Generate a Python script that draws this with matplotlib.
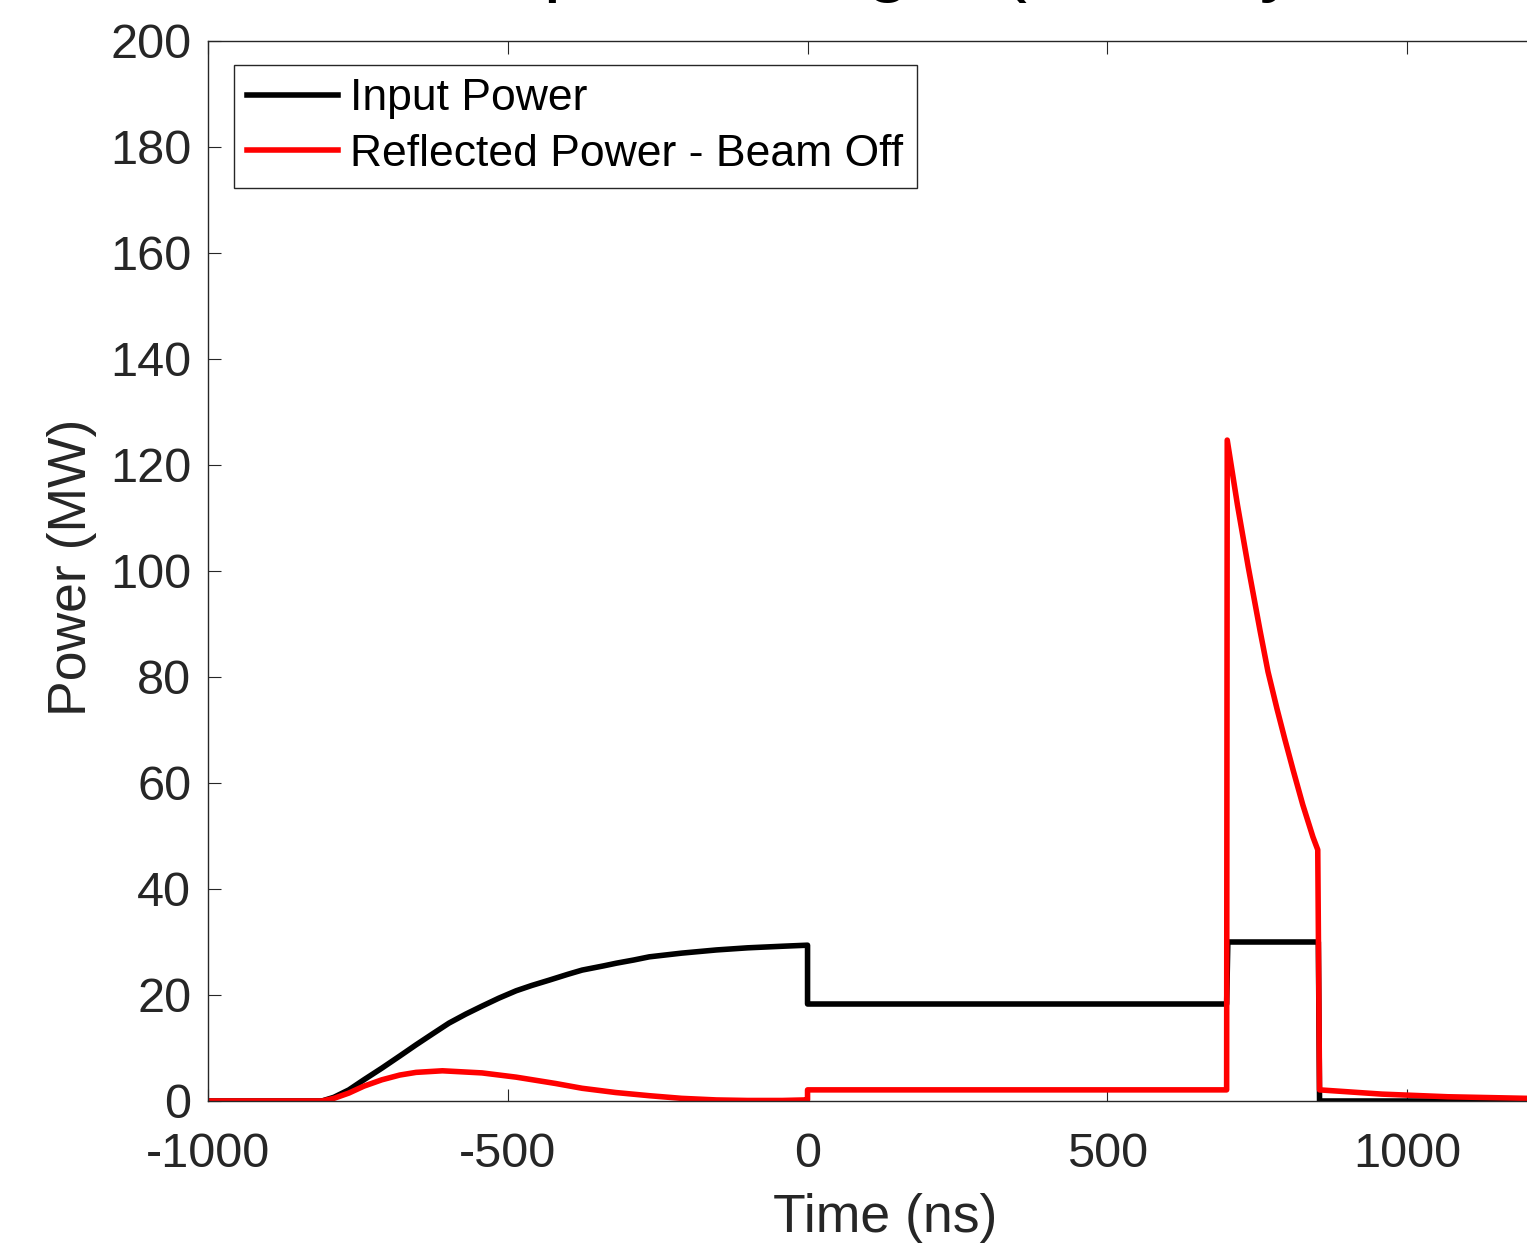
import matplotlib.pyplot as plt

plt.rcParams['axes.unicode_minus'] = False
plt.rcParams['font.family'] = ['Liberation Sans', 'DejaVu Sans']

# data
t_in = [-1000, -810, -790, -765, -740, -710, -680, -653, -625, -598, -570, -543, -515, -486,
        -460, -431, -400, -376, -340, -319, -290, -264, -210, -152, -100, -42, 0, 0,
        699, 701, 852, 854, 1200]
p_in = [0, 0, 0.7, 2.1, 4.0, 6.2, 8.5, 10.6, 12.7, 14.7, 16.4, 17.9, 19.4, 20.8,
        21.8, 22.8, 23.9, 24.7, 25.5, 26.0, 26.6, 27.2, 27.9, 28.5, 28.9, 29.2, 29.4, 18.3,
        18.3, 30.0, 30.0, 0, 0]

t_ref = [-1000, -810, -790, -765, -740, -710, -680, -653, -609, -543, -486, -420, -376, -320,
         -264, -210, -152, -100, -42, -5, 0, 0,
         699, 700, 717, 735, 755, 768, 783, 796, 810, 826, 843, 851, 854,
         958, 1068, 1200]
p_ref = [0, 0, 0.5, 1.5, 2.8, 4.0, 4.9, 5.4, 5.7, 5.3, 4.5, 3.3, 2.4, 1.6,
         1.0, 0.5, 0.2, 0.1, 0.1, 0.2, 0.2, 2.1,
         2.1, 124.7, 112.5, 100.8, 88.6, 81.0, 74.0, 68.3, 62.4, 55.9, 49.8, 47.4, 2.1,
         1.3, 0.8, 0.5]

labels = ["Input Power", "Reflected Power - Beam Off"]
x_ticks = [-1000, -500, 0, 500, 1000]
y_ticks = list(range(0, 201, 20))

W, H = 1527, 1243
fig = plt.figure(figsize=(W / 100, H / 100), dpi=100)
ax = fig.add_axes([208 / W, (H - 1101) / H, (W - 208) / W, 1060 / H])

ax.plot(t_in, p_in, color="black", linewidth=4, label=labels[0], solid_joinstyle="round")
ax.plot(t_ref, p_ref, color="#FF0000", linewidth=4, label=labels[1], solid_joinstyle="round")

ax.set_xlim(-1000, 1200)
ax.set_ylim(0, 200)
ax.set_xticks(x_ticks)
ax.set_yticks(y_ticks)

gray = "#262626"
ax.tick_params(direction="in", top=True, right=False, length=9, width=0.8,
               labelsize=35, colors=gray)
ax.tick_params(axis="y", pad=12)
ax.tick_params(axis="x", pad=22)
for s in ["left", "top", "bottom"]:
    ax.spines[s].set_color(gray)
    ax.spines[s].set_linewidth(1.0)
ax.spines["right"].set_visible(False)

ax.set_xlabel("Time (ns)", fontsize=38.5, color=gray)
ax.xaxis.set_label_coords((885 - 208) / (W - 208), -92 / 1060)
ax.set_ylabel("Power (MW)", fontsize=38.5, color=gray)
ax.yaxis.set_label_coords((97 - 208) / (W - 208), (1101 - 567) / 1060)

# title sits mostly above the picture
fig.text(69 / W, 1 + 14 / H, "The reduced pulse length (subway model)", fontsize=58,
         va="baseline", ha="left", color="black")

leg = ax.legend(loc="upper left", bbox_to_anchor=(234 / W, 1 - 65 / H),
                bbox_transform=fig.transFigure, borderaxespad=0,
                fancybox=False, framealpha=1, edgecolor=gray, fontsize=32,
                handlelength=2.05, handletextpad=0.27, borderpad=0.3, labelspacing=0.32)
leg.get_frame().set_linewidth(1.0)

fig.savefig("out.png", dpi=100)
